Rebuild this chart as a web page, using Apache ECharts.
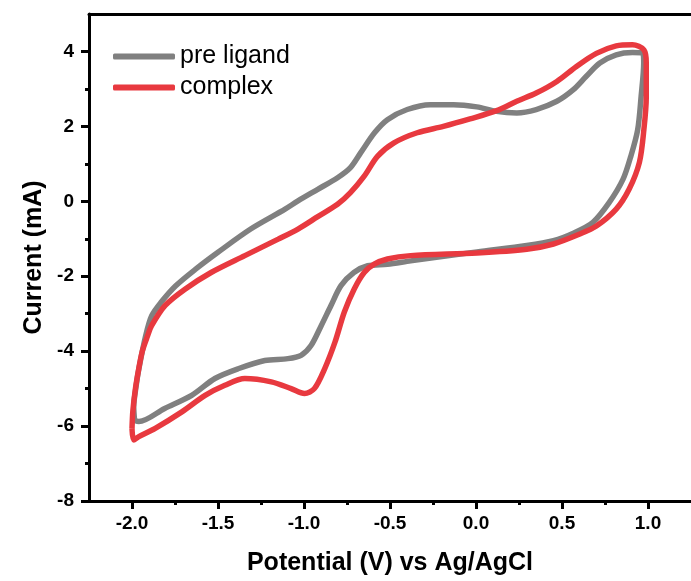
<!DOCTYPE html>
<html>
<head>
<meta charset="utf-8">
<script src="https://cdn.jsdelivr.net/npm/echarts@6/dist/echarts.min.js"></script>
<style>
  html, body { margin: 0; padding: 0; background: #fff; }
  #main { width: 691px; height: 581px; }
</style>
</head>
<body>
<div id="main"></div>
<script>
const chart = echarts.init(document.querySelector('#main'));

// 刻度
const xMajorTicks = [-2.0, -1.5, -1.0, -0.5, 0.0, 0.5, 1.0];
const xMinorTicks = [-1.75, -1.25, -0.75, -0.25, 0.25, 0.75];
const yMajorTicks = [-8, -6, -4, -2, 0, 2, 4];
const yMinorTicks = [-7, -5, -3, -1, 1, 3];

// pre ligand (灰)
const preLigandV = [-1.985, -1.99, -1.975, -1.96, -1.92, -1.886, -1.83, -1.747, -1.63, -1.50, -1.31, -1.11, -1.035, -0.92, -0.805, -0.73, -0.67, -0.59, -0.515, -0.40, -0.266, -0.13, 0.005, 0.12, 0.237, 0.35, 0.47, 0.566, 0.64, 0.72, 0.815, 0.91, 0.97, 0.975, 0.96, 0.94, 0.90, 0.855, 0.775, 0.68, 0.566, 0.45, 0.295, 0.006, -0.38, -0.515, -0.63, -0.71, -0.785, -0.843, -0.90, -0.959, -1.017, -1.094, -1.228, -1.383, -1.518, -1.653, -1.81, -1.96, -1.985];
const preLigandI = [-5.85, -5.50, -4.90, -4.47, -3.58, -3.06, -2.69, -2.26, -1.81, -1.36, -0.74, -0.21, 0.01, 0.32, 0.63, 0.90, 1.30, 1.83, 2.18, 2.45, 2.58, 2.58, 2.52, 2.40, 2.36, 2.45, 2.67, 2.98, 3.33, 3.69, 3.91, 3.97, 3.95, 3.69, 2.80, 1.91, 1.20, 0.59, -0.03, -0.56, -0.85, -1.05, -1.18, -1.35, -1.59, -1.68, -1.72, -1.90, -2.25, -2.78, -3.32, -3.85, -4.11, -4.20, -4.25, -4.47, -4.73, -5.18, -5.53, -5.88, -5.85];

// complex (紅)
const complexV = [-2.0, -1.995, -1.98, -1.96, -1.94, -1.91, -1.886, -1.807, -1.69, -1.54, -1.344, -1.15, -1.035, -0.92, -0.805, -0.73, -0.65, -0.573, -0.477, -0.342, -0.19, -0.035, 0.12, 0.237, 0.35, 0.47, 0.584, 0.70, 0.815, 0.91, 0.976, 0.99, 0.99, 0.976, 0.95, 0.89, 0.815, 0.70, 0.60, 0.45, 0.295, 0.006, -0.38, -0.515, -0.592, -0.65, -0.708, -0.766, -0.82, -0.88, -0.94, -0.997, -1.075, -1.19, -1.344, -1.46, -1.575, -1.71, -1.865, -1.96, -1.99, -2.0];
const complexI = [-6.07, -5.60, -5.00, -4.45, -4.00, -3.60, -3.32, -2.78, -2.34, -1.90, -1.45, -1.01, -0.74, -0.41, -0.08, 0.23, 0.67, 1.20, 1.56, 1.83, 2.00, 2.20, 2.42, 2.67, 2.89, 3.20, 3.60, 3.95, 4.15, 4.18, 4.04, 3.69, 2.80, 1.91, 1.04, 0.32, -0.21, -0.66, -0.88, -1.14, -1.28, -1.38, -1.45, -1.54, -1.68, -1.90, -2.34, -2.96, -3.76, -4.47, -5.00, -5.13, -5.00, -4.82, -4.73, -4.91, -5.18, -5.62, -6.06, -6.28, -6.37, -6.07];

const zip = (xs, ys) => xs.map((x, i) => [x, ys[i]]);

const font = 'Arial, "Liberation Sans", sans-serif';
const labelStyle = { color: '#000', fontSize: 19, fontWeight: 'bold', fontFamily: font };
const nameStyle = { color: '#000', fontSize: 25, fontWeight: 'bold', fontFamily: font };
const tickStyle = { color: '#000', width: 3 };

let option = {
    animation: false,
    grid: { left: 89, top: 14, right: -4, bottom: 78, containLabel: false },
    legend: {
        orient: 'vertical',
        left: 108,
        top: 39,
        itemWidth: 62,
        itemHeight: 6,
        itemGap: 6,
        icon: 'roundRect',
        textStyle: { color: '#000', fontSize: 25, fontFamily: font },
        data: ['pre ligand', 'complex']
    },
    xAxis: [
        {
            type: 'value', min: -2.25, max: 1.25, interval: 0.25,
            name: 'Potential (V) vs Ag/AgCl', nameLocation: 'middle', nameGap: 50,
            nameTextStyle: nameStyle,
            axisLine: { onZero: false, lineStyle: { color: '#000', width: 3 } },
            axisTick: { customValues: xMajorTicks, length: 8, lineStyle: tickStyle },
            axisLabel: { customValues: xMajorTicks, margin: 13, formatter: v => v.toFixed(1), ...labelStyle },
            splitLine: { show: false }
        },
        {
            type: 'value', min: -2.25, max: 1.25, interval: 0.25, position: 'bottom',
            axisLine: { show: false, onZero: false },
            axisTick: { customValues: xMinorTicks, length: 4, lineStyle: tickStyle },
            axisLabel: { show: false },
            splitLine: { show: false }
        },
        {
            type: 'value', min: -2.25, max: 1.25, position: 'top',
            axisLine: { onZero: false, lineStyle: { color: '#000', width: 3 } },
            axisTick: { show: false }, axisLabel: { show: false }, splitLine: { show: false }
        }
    ],
    yAxis: [
        {
            type: 'value', min: -8, max: 5, interval: 1,
            name: 'Current (mA)', nameLocation: 'middle', nameGap: 42,
            nameTextStyle: nameStyle,
            axisLine: { onZero: false, lineStyle: { color: '#000', width: 3 } },
            axisTick: { customValues: yMajorTicks, length: 8, lineStyle: tickStyle },
            axisLabel: { customValues: yMajorTicks, margin: 15, ...labelStyle },
            splitLine: { show: false }
        },
        {
            type: 'value', min: -8, max: 5, interval: 1, position: 'left',
            axisLine: { show: false, onZero: false },
            axisTick: { customValues: yMinorTicks, length: 4, lineStyle: tickStyle },
            axisLabel: { show: false },
            splitLine: { show: false }
        }
    ],
    series: [
        {
            name: 'pre ligand', type: 'line', data: zip(preLigandV, preLigandI),
            smooth: 0.3, showSymbol: false, color: '#808080',
            lineStyle: { width: 5.5, color: '#808080' }
        },
        {
            name: 'complex', type: 'line', data: zip(complexV, complexI),
            smooth: 0.3, showSymbol: false, color: '#e8393f',
            lineStyle: { width: 5.5, color: '#e8393f' }
        }
    ]
};
chart.setOption(option);
</script>
</body>
</html>
